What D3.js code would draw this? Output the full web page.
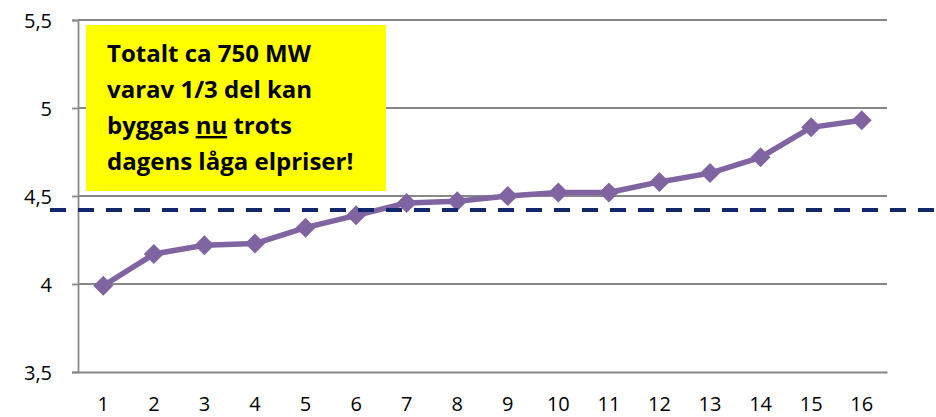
<!DOCTYPE html>
<html>
<head>
<meta charset="utf-8">
<script src="https://cdn.jsdelivr.net/npm/d3@7"></script>
<style>
  body { margin: 0; background: #fff; }
  text { font-family: "Open Sans", "DejaVu Sans", sans-serif; }
</style>
</head>
<body>
<div id="chart"></div>
<script>
var svgWidth = 936;
var svgHeight = 417;

var margin = { top: 20, right: 49, bottom: 45, left: 78 };
var width = svgWidth - margin.left - margin.right;
var height = svgHeight - margin.top - margin.bottom;

// data
var categories = ["1", "2", "3", "4", "5", "6", "7", "8", "9", "10", "11", "12", "13", "14", "15", "16"];
var values = [3.99, 4.17, 4.22, 4.23, 4.32, 4.39, 4.46, 4.47, 4.50, 4.52, 4.52, 4.58, 4.63, 4.72, 4.89, 4.93];
var yTicks = [3.5, 4, 4.5, 5, 5.5];
var refLevel = 4.42;
var noteLines = ["Totalt ca 750 MW", "varav 1/3 del kan", "byggas |nu| trots", "dagens låga elpriser!"];

var svg = d3.select("#chart")
  .append("svg")
  .attr("width", svgWidth)
  .attr("height", svgHeight);

var chartGroup = svg.append("g")
  .attr("transform", `translate(${margin.left}, ${margin.top})`);

var xScale = d3.scaleBand()
  .domain(categories)
  .range([0, width]);

var yScale = d3.scaleLinear()
  .domain([3.5, 5.5])
  .range([height, 0]);

var fmt = d => String(d).replace(".", ",");

// gridlines
chartGroup.append("g")
  .selectAll("line")
  .data(yTicks.slice(1))
  .enter()
  .append("line")
  .attr("x1", 0)
  .attr("x2", width)
  .attr("y1", d => yScale(d))
  .attr("y2", d => yScale(d))
  .attr("stroke", "#888888")
  .attr("stroke-width", 1.8);

// left axis
var leftAxis = d3.axisLeft(yScale)
  .tickValues(yTicks)
  .tickFormat(fmt)
  .tickSize(6)
  .tickPadding(20);

var yAxisG = chartGroup.append("g").call(leftAxis);
yAxisG.select(".domain").attr("stroke", "#888888").attr("stroke-width", 1.8);
yAxisG.selectAll(".tick line").attr("stroke", "#888888").attr("stroke-width", 1.8);
yAxisG.selectAll(".tick text")
  .style("font-size", "20px")
  .attr("fill", "#000")
  .attr("dy", "0.36em");

// bottom axis
var bottomAxis = d3.axisBottom(xScale).tickSize(0).tickPadding(32);
var xAxisG = chartGroup.append("g")
  .attr("transform", `translate(0, ${height})`)
  .call(bottomAxis);
xAxisG.select(".domain").attr("stroke", "#888888").attr("stroke-width", 1.8);
xAxisG.selectAll(".tick text")
  .style("font-size", "20px")
  .attr("fill", "#000")
  .attr("dy", "0.36em");

// yellow note box
var note = chartGroup.append("g").attr("transform", "translate(8, 5)");
note.append("rect")
  .attr("width", 300)
  .attr("height", 166)
  .attr("fill", "#FFFF00");

var noteText = note.append("text")
  .attr("x", 21)
  .style("font-size", "24px")
  .style("font-weight", "bold")
  .attr("fill", "#000");

noteLines.forEach(function(line, i) {
  var t = noteText.append("tspan")
    .attr("x", 21)
    .attr("y", 37 + i * 36);
  line.split("|").forEach(function(part, j) {
    var s = t.append("tspan").text(part);
    if (j === 1) s.style("text-decoration", "underline");
  });
});

// dashed reference line
svg.append("line")
  .attr("x1", 50)
  .attr("x2", svgWidth)
  .attr("y1", margin.top + yScale(refLevel))
  .attr("y2", margin.top + yScale(refLevel))
  .attr("stroke", "#14266B")
  .attr("stroke-width", 4)
  .attr("stroke-dasharray", "16 12");

// series line
var line = d3.line()
  .x((d, i) => xScale(categories[i]) + xScale.bandwidth() / 2)
  .y(d => yScale(d));

chartGroup.append("path")
  .datum(values)
  .attr("d", line)
  .attr("fill", "none")
  .attr("stroke", "#8064A2")
  .attr("stroke-width", 5.5)
  .attr("stroke-linejoin", "round");

chartGroup.selectAll(".marker")
  .data(values)
  .enter()
  .append("path")
  .attr("class", "marker")
  .attr("d", d3.symbol(d3.symbolSquare, 200))
  .attr("transform", (d, i) => `translate(${xScale(categories[i]) + xScale.bandwidth() / 2}, ${yScale(d)}) rotate(45)`)
  .attr("fill", "#8064A2");
</script>
</body>
</html>
